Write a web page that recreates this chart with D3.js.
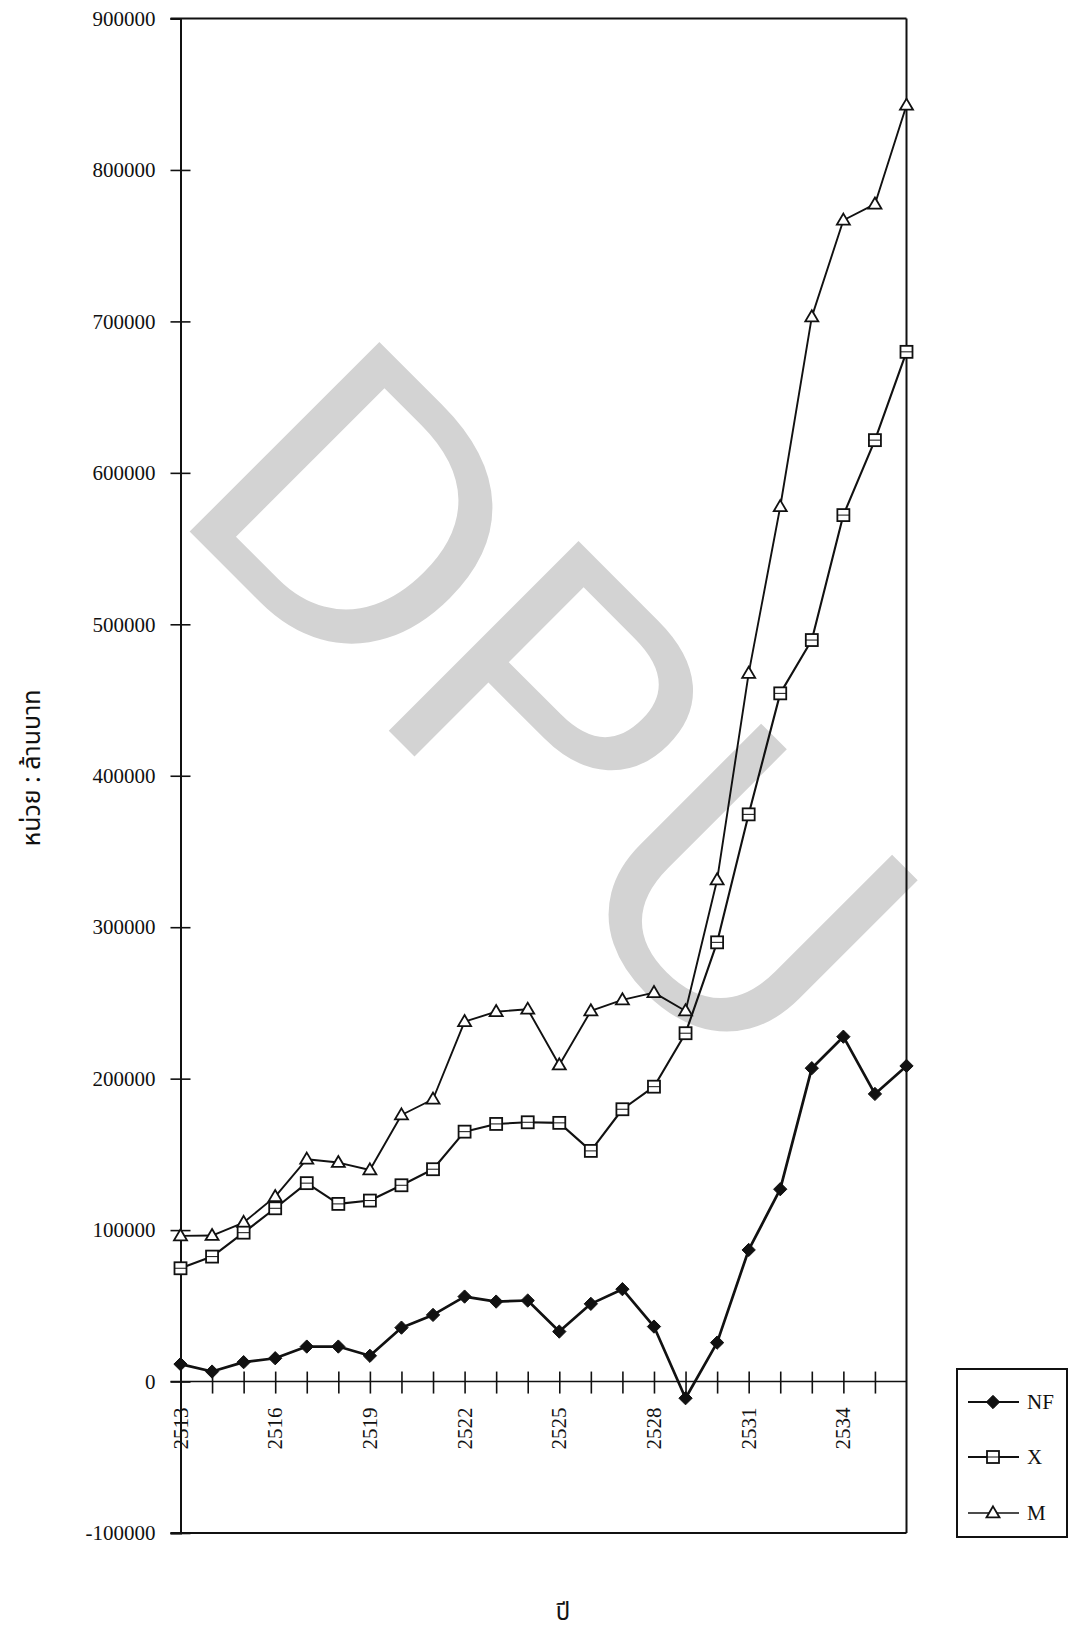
<!DOCTYPE html>
<html>
<head>
<meta charset="utf-8">
<script src="https://cdn.jsdelivr.net/npm/d3@7/dist/d3.min.js"></script>
<style>
  html, body { margin: 0; padding: 0; background: #fff; }
  svg { display: block; }
  .tick text, .lbl { font-family: "Liberation Serif", "DejaVu Serif", serif; fill: #111; }
  .thai { font-family: "Noto Sans Thai", "Noto Serif Thai", "Loma", "Garuda", "Noto Sans", "DejaVu Sans", sans-serif; fill: #111; }
</style>
</head>
<body>
<svg id="chart" width="1069" height="1632"></svg>
<script>
// Years (Buddhist era) on the horizontal axis
const years = [2513, 2514, 2515, 2516, 2517, 2518, 2519, 2520, 2521, 2522, 2523, 2524,
               2525, 2526, 2527, 2528, 2529, 2530, 2531, 2532, 2533, 2534, 2535, 2536];

// Series values, million baht
const seriesNF = [11500, 6600, 12800, 15400, 23100, 23100, 17000, 35600, 44000, 56100, 52800, 53500,
                  33000, 51300, 61000, 36300, -11000, 25700, 86900, 127000, 206900, 227700, 189900, 208400];
const seriesX  = [74800, 82500, 98300, 114400, 131000, 117300, 119500, 129600, 140200, 165000, 170100, 171200,
                  170800, 152300, 179800, 194700, 230000, 290000, 374500, 454400, 489600, 572100, 621600, 679900];
const seriesM  = [96200, 96400, 105000, 122100, 146800, 144600, 139700, 176000, 186400, 237600, 244200, 245800,
                  209000, 244700, 252000, 256800, 244700, 331200, 467600, 577600, 703000, 766800, 777400, 842700];

// Axis ticks and labels
const yTicks = [-100000, 0, 100000, 200000, 300000, 400000, 500000, 600000, 700000, 800000, 900000];
const xTickYears = [2513, 2514, 2515, 2516, 2517, 2518, 2519, 2520, 2521, 2522, 2523, 2524,
                    2525, 2526, 2527, 2528, 2529, 2530, 2531, 2532, 2533, 2534, 2535];
const xLabelYears = [2513, 2516, 2519, 2522, 2525, 2528, 2531, 2534];
const seriesNames = ["NF", "X", "M"];
const yTitle = "หน่วย : ล้านบาท";
const xTitle = "ปี";
const watermark = "DPU";

const svg = d3.select("#chart");
const plotLeft = 180.5, plotRight = 906.5, plotTop = 18.5, plotBottom = 1533;

const x = d3.scaleLinear().domain([2513, 2536]).range([plotLeft, plotRight]);
const y = d3.scaleLinear().domain([-100000, 900000]).range([plotBottom, plotTop]);

// Faint institutional watermark behind the plot
svg.append("text")
  .attr("transform", "translate(167,509) rotate(45)")
  .attr("font-family", "Liberation Sans, Arial, sans-serif")
  .attr("font-size", 390)
  .attr("fill", "#d3d3d3")
  .text(watermark);

// Frame: top, right and bottom edges
const frame = svg.append("g").attr("stroke", "#111").attr("stroke-width", 2).attr("fill", "none");
frame.append("line").attr("x1", plotLeft - 10).attr("x2", plotRight).attr("y1", plotTop).attr("y2", plotTop);
frame.append("line").attr("x1", plotRight).attr("x2", plotRight).attr("y1", plotTop).attr("y2", plotBottom);
frame.append("line").attr("x1", plotLeft - 10).attr("x2", plotRight).attr("y1", plotBottom).attr("y2", plotBottom);

// Vertical value axis (plain hyphen for negatives)
const yAxis = svg.append("g")
  .attr("transform", `translate(${plotLeft},0)`)
  .call(d3.axisLeft(y).tickValues(yTicks).tickSize(10).tickPadding(15).tickFormat(d => String(d)));
yAxis.select(".domain").attr("stroke", "#111").attr("stroke-width", 2);
yAxis.selectAll(".tick line").attr("stroke", "#111").attr("stroke-width", 1.6)
  .attr("x2", d => (d === 900000 ? 0 : 10)).attr("x1", -10);
yAxis.selectAll(".tick text").attr("font-size", 21).attr("fill", "#111");

// Horizontal year axis at zero
const xAxis = svg.append("g")
  .attr("transform", `translate(0,${y(0)})`)
  .call(d3.axisBottom(x).tickValues(xTickYears).tickSize(12).tickFormat(""));
xAxis.select(".domain").attr("stroke", "#111").attr("stroke-width", 1.6).attr("d", `M${plotLeft - 10},0H${plotRight}`);
xAxis.selectAll(".tick line").attr("stroke", "#111").attr("stroke-width", 1.6).attr("y1", -10);

// Rotated year labels every third year
svg.append("g").selectAll("text").data(xLabelYears).join("text")
  .attr("class", "lbl")
  .attr("font-size", 21)
  .attr("text-anchor", "end")
  .attr("dominant-baseline", "central")
  .attr("transform", d => `translate(${x(d)},${y(0) + 26}) rotate(-90)`)
  .text(d => d);

// Axis titles
svg.append("text").attr("class", "thai")
  .attr("font-size", 25)
  .attr("text-anchor", "middle")
  .attr("transform", "translate(40,768) rotate(-90)")
  .text(yTitle);
svg.append("text").attr("class", "thai")
  .attr("font-size", 24)
  .attr("text-anchor", "middle")
  .attr("x", 563).attr("y", 1620)
  .text(xTitle);

// Marker drawing helpers
function diamond(g, s) {
  g.append("path").attr("d", d3.symbol(d3.symbolDiamond2, s * s * 0.5)()).attr("fill", "#111").attr("stroke", "#111").attr("stroke-width", 1);
}
function square(g, s) {
  g.append("rect").attr("x", -s / 2).attr("y", -s / 2).attr("width", s).attr("height", s)
    .attr("fill", "#fff").attr("stroke", "#111").attr("stroke-width", 1.8);
  g.append("line").attr("x1", -s / 2).attr("x2", s / 2).attr("y1", 0).attr("y2", 0)
    .attr("stroke", "#111").attr("stroke-width", 1);
}
function triangle(g, s) {
  const h = s * 0.85;
  g.append("path").attr("d", `M0,${-h * 0.6}L${s / 2},${h * 0.4}L${-s / 2},${h * 0.4}Z`)
    .attr("fill", "#fff").attr("stroke", "#111").attr("stroke-width", 1.8);
}

const series = [
  { name: seriesNames[2], values: seriesM, width: 1.9, marker: triangle, size: 13 },
  { name: seriesNames[1], values: seriesX, width: 2.1, marker: square, size: 12 },
  { name: seriesNames[0], values: seriesNF, width: 2.7, marker: diamond, size: 15 }
];

const line = d3.line().x((d, i) => x(years[i])).y(d => y(d));

series.forEach(s => {
  svg.append("path").datum(s.values)
    .attr("d", line).attr("fill", "none").attr("stroke", "#111").attr("stroke-width", s.width)
    .attr("stroke-linejoin", "round");
});
series.forEach(s => {
  svg.append("g").selectAll("g").data(s.values).join("g")
    .attr("transform", (d, i) => `translate(${x(years[i])},${y(d)})`)
    .each(function () { s.marker(d3.select(this), s.size); });
});

// Legend
const legend = svg.append("g");
legend.append("rect").attr("x", 957).attr("y", 1369).attr("width", 110).attr("height", 168)
  .attr("fill", "#fff").attr("stroke", "#111").attr("stroke-width", 2);
const legendRows = [
  { name: seriesNames[0], marker: diamond, size: 15, y: 1402, width: 2.2 },
  { name: seriesNames[1], marker: square, size: 12, y: 1457, width: 1.8 },
  { name: seriesNames[2], marker: triangle, size: 13, y: 1513, width: 1.6 }
];
legendRows.forEach(r => {
  legend.append("line").attr("x1", 968).attr("x2", 1019).attr("y1", r.y).attr("y2", r.y)
    .attr("stroke", "#111").attr("stroke-width", r.width);
  const g = legend.append("g").attr("transform", `translate(993,${r.y})`);
  r.marker(g, r.size);
  legend.append("text").attr("class", "lbl").attr("x", 1027).attr("y", r.y)
    .attr("dominant-baseline", "central").attr("font-size", 21).text(r.name);
});
</script>
</body>
</html>
